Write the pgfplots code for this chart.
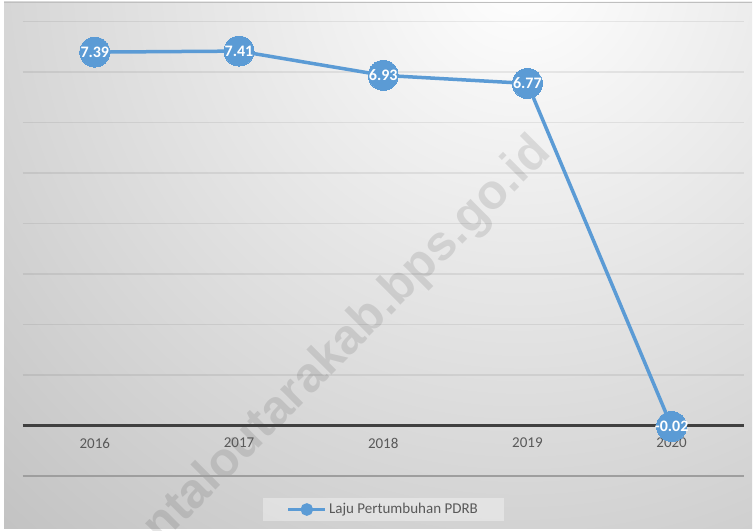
\documentclass[border=0pt]{standalone}
\usepackage{fontspec}
\setmainfont{Carlito}
\newfontfamily\wmfont{Liberation Sans}
\usepackage{pgfplots}
\pgfplotsset{compat=1.18}
\definecolor{lineblue}{HTML}{5B9BD5}
\definecolor{ticktext}{HTML}{595959}
\pgfplotstableread{
x y label
0 7.39 7.39
1 7.41 7.41
2 6.93 6.93
3 6.77 6.77
4 -0.02 -0.02
}\pdrb
\begin{document}
\begin{tikzpicture}[x=1bp,y=1bp]
\useasboundingbox (0,0) rectangle (754,531);
\fill[white] (0,0) rectangle (754,531);
\begin{scope}
\clip (4,2) rectangle (752,529);
\shade[inner color=white, outer color=black!28] (520,560) circle (900);
\end{scope}
\draw[black!25, line width=0.8bp] (4,529) -- (752,529);
\node[rotate=45, anchor=east, inner sep=0pt, font=\wmfont\bfseries\fontsize{49bp}{54bp}\selectfont, text=black, opacity=0.10] at (544,386) {gorontaloutarakab.bps.go.id};
\begin{axis}[
  at={(22.7bp,55bp)}, anchor=south west, scale only axis,
  width=721bp, height=454.7bp,
  xmin=-0.5, xmax=4.5, ymin=-1, ymax=8,
  axis line style={draw=none},
  xtick={0,...,4}, xticklabels={2016,2017,2018,2019,2020},
  ytick={1,...,8}, yticklabels={},
  major tick length=0pt,
  ymajorgrids, grid style={black, opacity=0.07, line width=1.5bp},
  extra y ticks={0}, extra y tick labels={},
  extra y tick style={grid style={black!75, opacity=1, line width=2.4bp}},
  xticklabel style={font=\fontsize{15bp}{17bp}\selectfont, text=ticktext, anchor=center, yshift=33bp},
  clip=false,
  legend image code/.code={\draw[lineblue, line width=3.5bp, draw opacity=1] (0bp,0bp) -- (37bp,0bp); \fill[lineblue, fill opacity=1] (18.5bp,0bp) circle (4.5bp);},
  legend style={at={(0.5,-0.0737)}, anchor=center, draw=none, fill=white, fill opacity=0.35, text opacity=1,
    font=\fontsize{15bp}{17bp}\selectfont, text=ticktext, inner xsep=24bp, inner ysep=4bp},
  legend cell align=left,
]
\draw[black!38, line width=1.2bp] (rel axis cs:0,0) -- (rel axis cs:1,0);
\addplot[lineblue, line width=3.5bp, mark=*, mark size=15bp,
  mark options={fill=lineblue, draw=lineblue, line width=0pt},
  nodes near coords={\pgfplotspointmeta}, point meta=explicit symbolic,
  nodes near coords style={anchor=center, text=white, inner sep=0pt,
    font=\bfseries\fontsize{16bp}{18bp}\selectfont}]
  table[x=x, y=y, meta=label] {\pdrb};
\addlegendentry{Laju Pertumbuhan PDRB}
\end{axis}
\end{tikzpicture}
\end{document}
